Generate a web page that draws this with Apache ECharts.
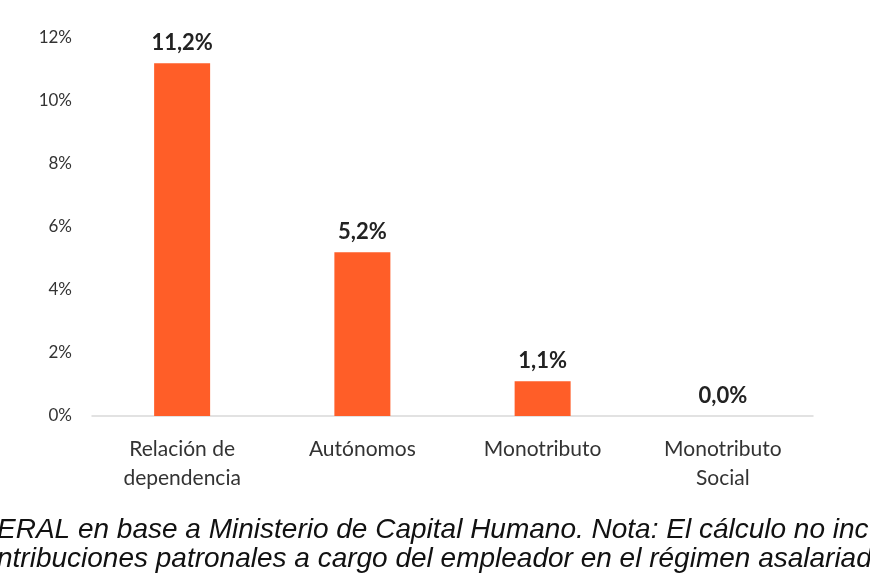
<!DOCTYPE html>
<html>
<head>
<meta charset="utf-8">
<script src="https://cdn.jsdelivr.net/npm/echarts@6/dist/echarts.min.js"></script>
<style>
  html, body { margin: 0; padding: 0; background: #fff; }
  #chart { width: 870px; height: 580px; }
</style>
</head>
<body>
<div id="chart"></div>
<script>
const categories = ['Relación de\ndependencia', 'Autónomos', 'Monotributo', 'Monotributo\nSocial']
const values = [11.2, 5.2, 1.1, 0.0]
const noteLines = [
  'ERAL en base a Ministerio de Capital Humano. Nota: El cálculo no inc',
  'ntribuciones patronales a cargo del empleador en el régimen asalariad'
]

const chart = echarts.init(document.getElementById('chart'))
const option = {
  animation: false,
  grid: { left: 92, right: 57, top: 38, bottom: 164 },
  xAxis: {
    type: 'category',
    data: categories,
    axisLine: { lineStyle: { color: '#d9d9d9', width: 1.5 } },
    axisTick: { show: false },
    axisLabel: {
      color: '#333',
      fontFamily: 'Lato, "Open Sans", sans-serif',
      fontSize: 21,
      lineHeight: 29,
      margin: 19
    }
  },
  yAxis: {
    type: 'value',
    min: 0,
    max: 12,
    interval: 2,
    splitLine: { show: false },
    axisLine: { show: false },
    axisTick: { show: false },
    axisLabel: {
      formatter: '{value}%',
      color: '#333',
      fontFamily: 'Lato, "Open Sans", sans-serif',
      fontSize: 17,
      margin: 20
    }
  },
  series: [{
    type: 'bar',
    data: values,
    barWidth: 56,
    itemStyle: { color: '#ff5e28' },
    label: {
      show: true,
      position: 'top',
      distance: 9,
      formatter: p => p.value.toFixed(1).replace('.', ',') + '%',
      color: '#222',
      fontWeight: 'bold',
      fontFamily: 'Lato, "Open Sans", sans-serif',
      fontSize: 22
    }
  }],
  graphic: noteLines.map((t, i) => ({
    type: 'text',
    x: -3,
    y: 530 + i * 29,
    style: {
      text: t,
      fill: '#111',
      verticalAlign: 'middle',
      font: 'italic 28px "Liberation Sans", Arial, sans-serif'
    }
  }))
}
chart.setOption(option)
</script>
</body>
</html>
